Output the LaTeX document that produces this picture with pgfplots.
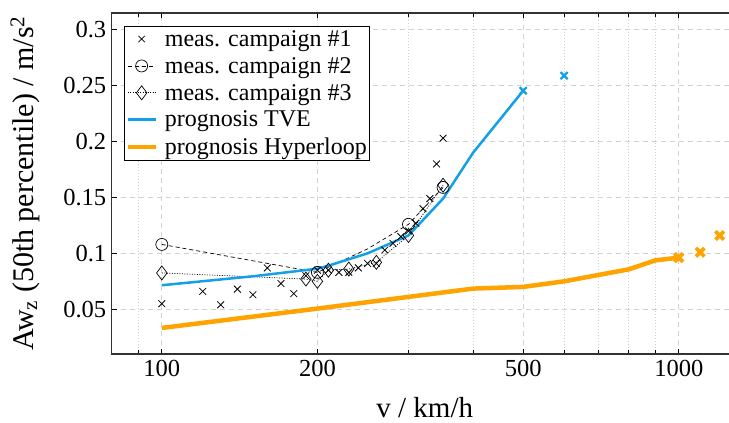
\documentclass[border=0pt]{standalone}
\usepackage{fontspec}
\setmainfont{Liberation Serif}
\usepackage{pgfplots}
\pgfplotsset{compat=1.18}
\definecolor{tve}{RGB}{20,160,230}
\definecolor{hyper}{RGB}{255,163,0}
\definecolor{gridc}{RGB}{210,210,210}

\begin{document}
\begin{tikzpicture}
\clip (-111.7pt,-69pt) rectangle (617.3pt,354pt);
\begin{axis}[
  at={(0,0)}, anchor=south west,
  scale only axis, width=626pt, height=341pt,
  xmode=log,
  xmin=80, xmax=1300, ymin=0.01, ymax=0.315,
  xtick={100,200,500,1000}, xticklabels={100,200,500,1000},
  minor xtick={90,300,400,600,700,800,900},
  ytick={0.05,0.1,0.15,0.2,0.25,0.3},
  yticklabels={0.05,0.1,0.15,0.2,0.25,0.3},
  grid=both,
  major grid style={gridc, dash pattern=on 5pt off 4pt, line width=0.8pt},
  minor grid style={gridc, dash pattern=on 1pt off 2pt, line width=0.8pt},
  tick align=inside, major tick length=5pt, minor tick length=4pt,
  tick style={black, line width=0.8pt},
  axis line style={line width=1.2pt, black!80},
  /pgf/number format/assume math mode=true,
  tick label style={font=\fontsize{24.5}{28}\selectfont},
  xticklabel style={yshift=-3pt},
  yticklabel style={xshift=-2pt},
  xlabel={v / km/h},
  xlabel style={font=\fontsize{29}{33}\selectfont, at={(axis description cs:0.5,-0.185)}, anchor=base},
  ylabel={Aw\textsubscript{z} (50th percentile) / m/s\textsuperscript{2}},
  ylabel style={font=\fontsize{30}{34}\selectfont, at={(axis description cs:-0.1385,0.5)}, anchor=center},
  legend cell align=left,
  legend style={at={(0.0196,0.962)}, anchor=north west, draw=black, line width=0.8pt,
    fill=white, inner xsep=1pt, inner ysep=2pt, row sep=5.5pt,
    font=\fontsize{24}{28}\selectfont},
  legend image code/.code={\draw[mark repeat=2,mark phase=2,#1] plot coordinates {(0pt,0pt) (14pt,0pt) (28pt,0pt)}; \path (0pt,0pt) (33pt,0pt);},
]
% legend entries
\addlegendimage{only marks, mark=x, mark size=4.5pt, black, line width=0.7pt}
\addlegendentry{meas. campaign \#1}
\addlegendimage{black, line width=0.7pt, dash pattern=on 4pt off 3pt, mark=o, mark size=6pt, mark options={solid}}
\addlegendentry{meas. campaign \#2}
\addlegendimage{black, line width=0.7pt, dash pattern=on 1pt off 1.5pt, mark=diamond, mark size=7pt, mark options={solid}}
\addlegendentry{meas. campaign \#3}
\addlegendimage{tve, line width=2.5pt}
\addlegendentry{prognosis TVE}
\addlegendimage{hyper, line width=4.5pt}
\addlegendentry{prognosis Hyperloop}

% campaign #1
\addplot[only marks, mark=x, mark size=4.8pt, black, line width=0.8pt, forget plot] coordinates {
(100,0.055) (120,0.066) (130,0.054) (140,0.068) (150,0.063) (160,0.087)
(170,0.073) (180,0.064) (190,0.080) (200,0.085) (210,0.085) (220,0.083)
(230,0.083) (240,0.087) (250,0.091) (260,0.091) (270,0.103) (280,0.109)
(290,0.115) (300,0.120) (310,0.127) (320,0.140) (330,0.149) (340,0.180)
(350,0.203)};

% campaign #2
\addplot[black, line width=0.7pt, dash pattern=on 4pt off 3pt, mark=o, mark size=6pt,
  mark options={solid}, mark indices={1,2,4,5}, forget plot] coordinates {
(100,0.108) (200,0.083) (250,0.104) (300,0.126) (350,0.159)};

% campaign #3
\addplot[black, line width=0.7pt, dash pattern=on 1pt off 1.5pt, mark=diamond, mark size=7pt,
  mark options={solid}, forget plot] coordinates {
(100,0.0825) (190,0.077) (200,0.075) (210,0.085) (230,0.086) (260,0.092) (300,0.116) (350,0.161)};

% prognosis TVE
\addplot[tve, line width=2.5pt, forget plot] coordinates {
(100,0.0715) (150,0.0795) (200,0.0863) (210,0.089) (250,0.100) (300,0.116)
(350,0.149) (400,0.190) (500,0.2455)};
\addplot[only marks, mark=x, mark size=5pt, tve, line width=2.2pt, forget plot] coordinates {
(500,0.2455) (600,0.259)};

% prognosis Hyperloop
\addplot[hyper, line width=4.5pt, forget plot] coordinates {
(100,0.0333) (200,0.0506) (400,0.0685) (500,0.070) (600,0.075) (800,0.0857)
(900,0.0937) (1000,0.0962)};
\addplot[only marks, mark=x, mark size=6pt, hyper, line width=3.8pt, forget plot] coordinates {
(1000,0.0962) (1100,0.101) (1200,0.116)};
\end{axis}
\end{tikzpicture}
\end{document}
